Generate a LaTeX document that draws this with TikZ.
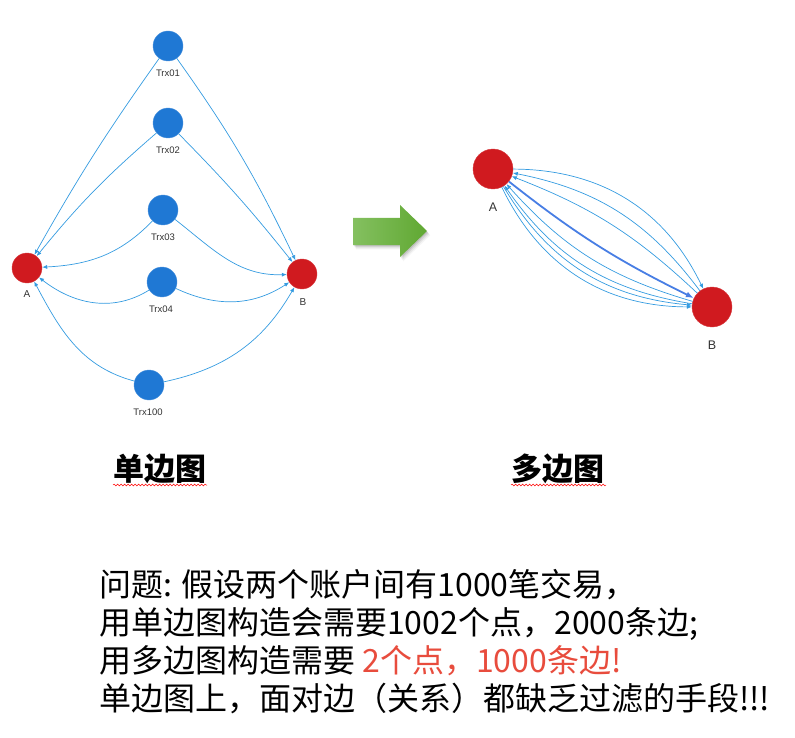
\documentclass[tikz,border=0pt]{standalone}
\usepackage{fontspec}
\newfontfamily\cjk{Noto Sans CJK SC}
\newfontfamily\lab{Liberation Sans}
\usetikzlibrary{arrows.meta,decorations.pathmorphing}
\definecolor{nblue}{RGB}{31,120,212}
\definecolor{nred}{RGB}{208,26,31}
\definecolor{eblue}{RGB}{52,155,224}
\definecolor{tblue}{RGB}{72,126,228}
\definecolor{hired}{RGB}{232,76,61}
\definecolor{labgray}{RGB}{51,51,51}
\definecolor{gL}{RGB}{132,192,96}
\definecolor{gR}{RGB}{96,168,50}
\begin{document}
\begin{tikzpicture}[x=1pt,y=1pt,
  trx/.style={circle,fill=nblue,draw=nblue!80!white,line width=0.4pt,minimum size=30pt,inner sep=0pt},
  acc/.style={circle,fill=nred,draw=nred!85!white,line width=0.4pt,minimum size=30pt,inner sep=0pt},
  accbig/.style={acc,minimum size=40pt},
  small/.style={text=labgray,font=\lab\fontsize{9.5}{10}\selectfont,inner sep=0pt},
  mid/.style={text=labgray,font=\lab\fontsize{12.5}{14}\selectfont,inner sep=0pt},
  edge/.style={draw=eblue,line width=0.7pt,-{Latex[length=5pt,width=4pt]}},
  thick edge/.style={draw=tblue,line width=1.8pt,-{Latex[length=8pt,width=6pt]}},
  title/.style={font=\cjk\bfseries\fontsize{31}{36}\selectfont,inner sep=0pt,anchor=base},
  body/.style={font=\cjk\fontsize{32}{38}\selectfont,inner sep=0pt,anchor=base west},
  wavy/.style={draw=red,line width=0.5pt,decorate,decoration={snake,segment length=3.5pt,amplitude=0.9pt}}
]
\path[use as bounding box] (0,0) rectangle (795,-738);

% ---------- left graph ----------
\node[trx] (t1) at (168,-46) {};
\node[trx] (t2) at (168,-123) {};
\node[trx] (t3) at (163,-210) {};
\node[trx] (t4) at (162,-282) {};
\node[trx] (t100) at (149,-385) {};
\node[acc] (A) at (27,-268) {};
\node[acc] (B) at (302,-274) {};

\node[small] (lt1) at (168,-73) {Trx01};
\node[small] (lt2) at (168,-150) {Trx02};
\node[small] (lt3) at (163,-237) {Trx03};
\node[small] (lt4) at (161,-309) {Trx04};
\node[small] (lt100) at (148,-412) {Trx100};
\node[small,font=\lab\fontsize{10}{11}\selectfont] (lA) at (27,-294) {A};
\node[small,font=\lab\fontsize{10}{11}\selectfont] (lB) at (303,-302) {B};

\draw[edge] (t1) to[bend right=3] (A);
\draw[edge] (t1) to[bend left=5] (B);
\draw[edge] (t2) to[bend right=5] (A);
\draw[edge] (t2) to[bend left=3] (B);
\draw[edge] (t3) to[out=226,in=3] (A);
\draw[edge] (t3) to[out=-38,in=182] (B);
\draw[edge] (t4) to[out=212,in=-38] (A);
\draw[edge] (t4) to[out=-25,in=213] (B);
\draw[edge] (t100) to[out=165,in=-62] (A);
\draw[edge] (t100) to[out=12,in=240] (B);

% ---------- green arrow ----------
\foreach \d/\o in {1/0.10,2/0.08,3/0.06,4/0.04}{
  \fill[black,opacity=\o,shift={(\d*0.8,-\d*1.1)}]
    (353,-218) -- (400,-218) -- (400,-205) -- (427,-231) -- (400,-257) -- (400,-245) -- (353,-245) -- cycle;
}
\shade[left color=gL,right color=gR]
  (353,-218) -- (400,-218) -- (400,-205) -- (427,-231) -- (400,-257) -- (400,-245) -- (353,-245) -- cycle;

% ---------- right graph ----------
\node[accbig] (A2) at (493,-169) {};
\node[accbig] (B2) at (712,-307) {};
\node[mid] (lA2) at (493,-207) {A};
\node[mid] (lB2) at (712,-345) {B};

\draw[edge] (A2) to[bend left=32] (B2);
\draw[edge] (B2) to[bend right=21] (A2);
\draw[edge] (B2) to[bend right=11] (A2);
\draw[thick edge] (A2) to[bend right=6] (B2);
\draw[edge] (B2) to[bend left=16] (A2);
\draw[edge] (B2) to[bend left=23] (A2);
\draw[edge] (A2) to[bend right=27] (B2);
\draw[edge] (A2) to[bend right=32] (B2);

% ---------- titles ----------
\node[title] (s1) at (160,-480) {单边图};
\node[title] (s2) at (558,-480) {多边图};
\draw[wavy] (113,-485) -- (207,-485);
\draw[wavy] (511,-485) -- (606,-485);

% ---------- text ----------
\node[body] (q1) at (99,-596) {问题: 假设两个账户间有1000笔交易，};
\node[body] (q2) at (99,-634) {用单边图构造会需要1002个点，2000条边;};
\node[body] (q3) at (99,-672) {用多边图构造需要 \textcolor{hired}{2个点，1000条边!}};
\node[body] (q4) at (99,-710) {单边图上，面对边（关系）都缺乏过滤的手段!!!};
\end{tikzpicture}
\end{document}
